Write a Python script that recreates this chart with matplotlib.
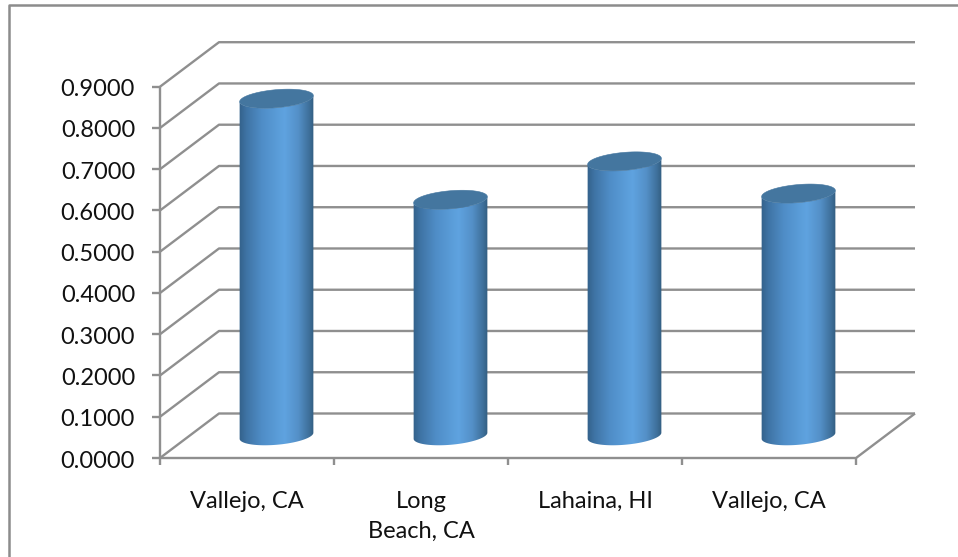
import matplotlib
matplotlib.use('Agg')
import matplotlib.pyplot as plt
import numpy as np
from matplotlib.colors import LinearSegmentedColormap
from matplotlib.lines import Line2D
from matplotlib.patches import Polygon

categories = ['Vallejo, CA', 'Long\nBeach, CA', 'Lahaina, HI', 'Vallejo, CA']
values = [0.817, 0.572, 0.665, 0.587]
y_ticks = [0.0, 0.1, 0.2, 0.3, 0.4, 0.5, 0.6, 0.7, 0.8, 0.9]

W, H = 958, 557
GRID = '#8f8f8f'
TEXT = '#111111'

# front plane of the fake 3d box, in pixels
LEFT, RIGHT, BOTTOM, TOP = 160, 856, 458, 86.7
DEPTH_X, DEPTH_Y = 59, 44.5
RX, RY, TILT = 37, 9.0, np.radians(5)
FONT_SIZE = 17

plt.rcParams['font.family'] = 'Lato'

fig = plt.figure(figsize=(W / 100, H / 100), dpi=100)
# outer chart frame only shows on the top and left
fig.add_artist(Line2D([9 / W, 9 / W, 1], [0, 1 - 5 / H, 1 - 5 / H], color='#8c8c8c', lw=1.8))

ax = fig.add_axes([LEFT / W, 1 - BOTTOM / H, (RIGHT - LEFT) / W, (BOTTOM - TOP) / H])
n = len(categories)
ax.axis('off')

# pixel to data scale factors
sx = n / (RIGHT - LEFT)
sy = 0.9 / (BOTTOM - TOP)
dx, dy = DEPTH_X * sx, DEPTH_Y * sy

line = dict(color=GRID, lw=1.7, clip_on=False, solid_capstyle='butt')
for t in y_ticks:
    ax.plot([0, dx, n + dx], [t, t + dy, t + dy], **line)
    ax.plot([-8 * sx, 0], [t, t], **line)
    ax.text(-25 * sx, t - 1 * sy, f'{t:.4f}', ha='right', va='center_baseline',
            fontsize=FONT_SIZE, color=TEXT)
ax.plot([0, 0], [0, 0.9], **line)
ax.plot([0, n, n + dx], [0, 0, dy], **line)
for i in range(n + 1):
    ax.plot([i, i], [0, -7 * sy], **line)

for i, c in enumerate(categories):
    ax.text(i + 0.5, -33 * sy, c, ha='center', va='top', fontsize=FONT_SIZE, color=TEXT,
            linespacing=1.5, multialignment='center')

cyl_map = LinearSegmentedColormap.from_list('cyl', [
    (0.0, '#33618a'), (0.1, '#3f74a5'), (0.3, '#4f8dc7'), (0.6, '#5fa3e0'),
    (0.78, '#5490c8'), (0.92, '#3f719c'), (1.0, '#30597b')])


def ellipse(cx, cy, start=0.0, stop=2 * np.pi):
    t = np.linspace(start, stop, 80)
    px = RX * np.cos(t) * np.cos(TILT) - RY * np.sin(t) * np.sin(TILT)
    py = RX * np.cos(t) * np.sin(TILT) + RY * np.sin(t) * np.cos(TILT)
    return np.column_stack([cx + px * sx, cy + py * sy])


for i, v in enumerate(values):
    cx = i + 0.5 + dx / 2
    base = dy / 2
    top = base + v
    # body runs along the lower half of both end caps
    body = np.vstack([ellipse(cx, base, np.pi, 2 * np.pi), ellipse(cx, top, 0, -np.pi)])
    im = ax.imshow(np.linspace(0, 1, 256)[None, :], cmap=cyl_map, aspect='auto', zorder=3,
                   extent=[cx - (RX + 1) * sx, cx + (RX + 1) * sx, base - 12 * sy, top + 12 * sy])
    clip = Polygon(body, closed=True, transform=ax.transData, fc='none', ec='none')
    ax.add_patch(clip)
    im.set_clip_path(clip)
    ax.add_patch(Polygon(ellipse(cx, top), closed=True, fc='#44769f', ec='#44769f', lw=0.4, zorder=4))

ax.set_xlim(0, n)
ax.set_ylim(0, 0.9)

fig.savefig('out.png', dpi=100)
